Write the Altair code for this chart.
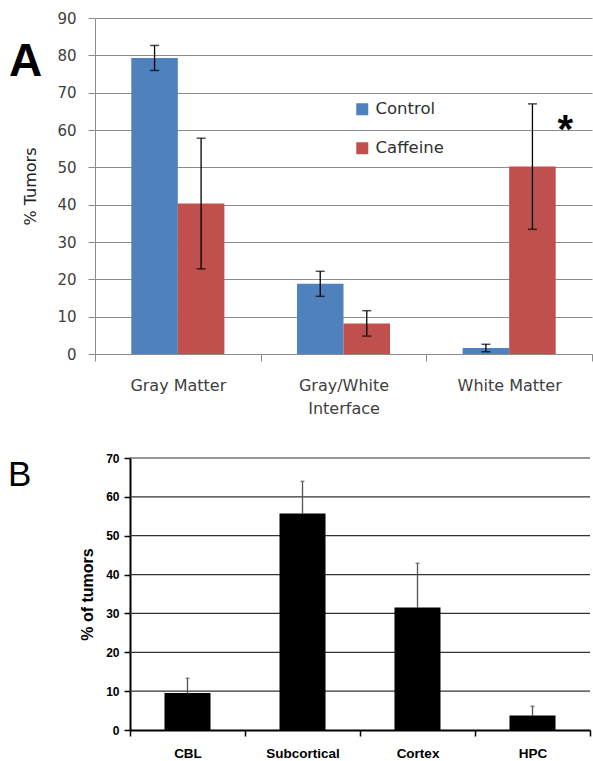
import altair as alt
import pandas as pd

# ---------------- Panel A data ----------------
regions = ["Gray Matter", "Gray/White Interface", "White Matter"]
groups = ["Control", "Caffeine"]
control = [79.3, 18.8, 1.6]
control_err = [3.35, 3.35, 1.0]
caffeine = [40.3, 8.2, 50.2]
caffeine_err = [17.5, 3.4, 16.8]
a_ticks = [0, 10, 20, 30, 40, 50, 60, 70, 80, 90]
star_region = ["White Matter"]
star_y = [59.6]

# ---------------- Panel B data ----------------
sites = ["CBL", "Subcortical", "Cortex", "HPC"]
pct = [9.5, 55.7, 31.5, 3.7]
pct_err = [3.8, 8.3, 11.4, 2.4]
b_ticks = [0, 10, 20, 30, 40, 50, 60, 70]

rowsA = []
for i, r in enumerate(regions):
    for g, vals, errs in (("Control", control, control_err), ("Caffeine", caffeine, caffeine_err)):
        v, e = vals[i], errs[i]
        rowsA.append({"region": r, "group": g, "value": v, "lo": v - e, "hi": v + e})
dfA = pd.DataFrame(rowsA)

dfB = pd.DataFrame({"site": sites, "value": pct,
                    "hi": [v + e for v, e in zip(pct, pct_err)]})
dfGridB = pd.DataFrame({"g": b_ticks[1:]})

FA = "DejaVu Sans"
FB = "Liberation Sans"

xA = alt.X("region:N", sort=regions,
           scale=alt.Scale(paddingInner=0, paddingOuter=0),
           axis=alt.Axis(title=None, labelAngle=0, tickBand="extent",
                         domainColor="#8c8c8c", tickColor="#8c8c8c", tickSize=7,
                         labelFont=FA, labelFontSize=16, labelColor="#404040",
                         labelPadding=16, labelLineHeight=23,
                         labelExpr="datum.label == 'Gray/White Interface' ? ['Gray/White', 'Interface'] : datum.label"))
xoA = alt.XOffset("group:N", sort=groups,
                  scale=alt.Scale(paddingInner=0, paddingOuter=0.78))
scaleYA = alt.Scale(domain=[0, 90], nice=False)
axisYA = alt.Axis(title="% Tumors", values=a_ticks, grid=True, gridColor="#8c8c8c",
                  gridWidth=1, domainColor="#8c8c8c", tickColor="#8c8c8c", tickSize=7,
                  labelFont=FA, labelFontSize=15, labelColor="#404040", labelPadding=12,
                  labelOverlap=False,
                  titleFont=FA, titleFontSize=16, titleFontWeight="normal",
                  titleColor="#202020", titlePadding=18)

baseA = alt.Chart(dfA).encode(x=xA, xOffset=xoA)
barsA = baseA.mark_bar().encode(
    y=alt.Y("value:Q", scale=scaleYA, axis=axisYA),
    color=alt.Color("group:N", sort=groups,
                    scale=alt.Scale(domain=groups, range=["#4F81BD", "#C0504D"]),
                    legend=alt.Legend(title=None, orient="none", legendX=259, legendY=83,
                                      symbolType="square", symbolSize=144, symbolStrokeWidth=0,
                                      labelFont=FA, labelFontSize=16.5, labelColor="#303030",
                                      labelOffset=5, rowPadding=22, padding=0)))
errA = baseA.mark_rule(color="black", strokeWidth=1.3).encode(
    y=alt.Y("lo:Q", scale=scaleYA, axis=axisYA), y2="hi:Q")
capHiA = baseA.mark_tick(color="black", thickness=1.5, size=9, orient="horizontal").encode(
    y=alt.Y("hi:Q", scale=scaleYA, axis=axisYA))
capLoA = baseA.mark_tick(color="black", thickness=1.5, size=9, orient="horizontal").encode(
    y=alt.Y("lo:Q", scale=scaleYA, axis=axisYA))

starA = alt.Chart(pd.DataFrame({"region": star_region, "y": star_y, "t": ["*"]})).mark_text(
    font=FB, fontSize=40, fontWeight="bold", dx=56, baseline="middle", color="black"
).encode(x=alt.X("region:N", sort=regions), y=alt.Y("y:Q", scale=scaleYA, axis=axisYA), text="t:N")

letterA = alt.Chart(pd.DataFrame({"t": ["A"]})).mark_text(
    font=FB, fontSize=46, fontWeight="bold", align="left", baseline="alphabetic", color="black"
).encode(x=alt.value(-86), y=alt.value(58), text="t:N")

chartA = alt.layer(barsA, errA, capHiA, capLoA, starA, letterA).properties(width=497, height=336)

# ---------------- Panel B ----------------
# panel B's plot starts 35px right of the shared origin
BSHIFT = 35
BW = 495
xB = alt.X("site:N", sort=sites,
           scale=alt.Scale(paddingInner=0, paddingOuter=0, range=[BSHIFT, BW]),
           axis=alt.Axis(title=None, labelAngle=0, tickBand="extent",
                         domainColor="black", domainWidth=2, tickColor="black", tickWidth=1.5,
                         tickSize=6, labelFont=FB, labelFontSize=13.5, labelFontWeight="bold",
                         labelColor="black", labelPadding=10))
scaleYB = alt.Scale(domain=[0, 70], nice=False)
axisYB = alt.Axis(title="% of tumors", values=b_ticks, grid=False, offset=-BSHIFT,
                  domainColor="black", domainWidth=2, tickColor="black",
                  tickWidth=1.5, tickSize=6, labelFont=FB, labelFontSize=12,
                  labelFontWeight="bold", labelColor="black", labelPadding=5,
                  labelOverlap=False,
                  titleFont=FB, titleFontSize=16, titleFontWeight="bold",
                  titleColor="black", titlePadding=10)

gridB = alt.Chart(dfGridB).mark_rule(color="#333333", strokeWidth=1.2).encode(
    y=alt.Y("g:Q", scale=scaleYB, axis=axisYB), x=alt.value(BSHIFT), x2=alt.value(BW))

baseB = alt.Chart(dfB).encode(x=xB)
errB = baseB.mark_rule(color="#555555", strokeWidth=1.3).encode(
    y=alt.Y("value:Q", scale=scaleYB, axis=axisYB), y2="hi:Q")
capB = baseB.mark_tick(color="#555555", thickness=1.5, size=4, orient="horizontal").encode(
    y=alt.Y("hi:Q", scale=scaleYB, axis=axisYB))
barsB = baseB.mark_bar(color="black", width=alt.RelativeBandSize(0.4)).encode(
    y=alt.Y("value:Q", scale=scaleYB, axis=axisYB))

letterB = alt.Chart(pd.DataFrame({"t": ["B"]})).mark_text(
    font=FB, fontSize=35, align="left", baseline="alphabetic", color="black"
).encode(x=alt.value(-87), y=alt.value(28), text="t:N")

chartB = alt.layer(gridB, errB, capB, barsB, letterB).properties(width=BW, height=272)

chart = alt.vconcat(chartA, chartB, spacing=36).properties(
    padding={"left": 8, "top": 11, "right": 0, "bottom": 0}
).configure_view(stroke=None)

chart.save("out.html", embed_options={"renderer": "svg", "actions": False})
